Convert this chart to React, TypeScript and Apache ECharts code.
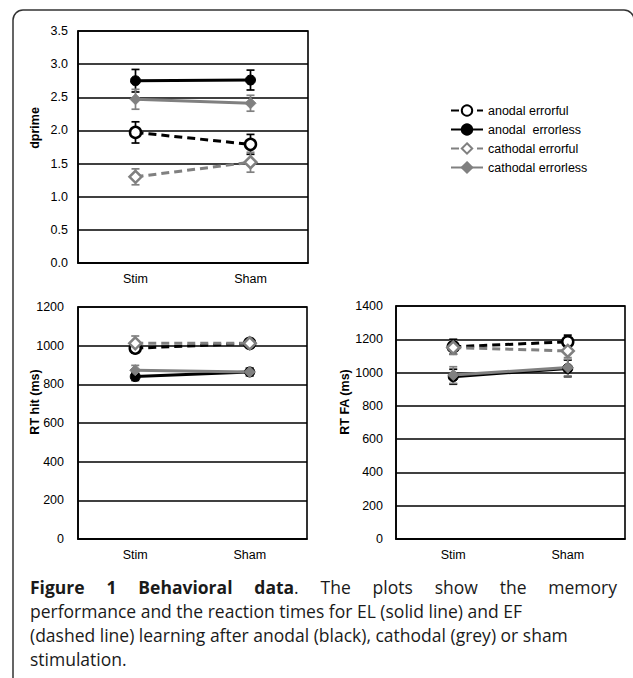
import React, { useEffect, useRef } from "react";
import * as echarts from "echarts";

const categories = ["Stim", "Sham"];
const seriesNames = ["anodal errorful", "anodal  errorless", "cathodal errorful", "cathodal errorless"];

// dprime (mean, error)
const dprimeAnodalErrorful = [1.97, 1.79];
const dprimeAnodalErrorless = [2.75, 2.76];
const dprimeCathodalErrorful = [1.3, 1.52];
const dprimeCathodalErrorless = [2.47, 2.41];
const dprimeErrAnodalErrorful = [0.16, 0.15];
const dprimeErrAnodalErrorless = [0.17, 0.15];
const dprimeErrCathodalErrorful = [0.12, 0.15];
const dprimeErrCathodalErrorless = [0.15, 0.12];

// RT hit (ms)
const rtHitAnodalErrorful = [987, 1012];
const rtHitAnodalErrorless = [840, 864];
const rtHitCathodalErrorful = [1012, 1012];
const rtHitCathodalErrorless = [873, 864];
const rtHitErrAnodalErrorful = [25, 20];
const rtHitErrAnodalErrorless = [20, 20];
const rtHitErrCathodalErrorful = [38, 25];
const rtHitErrCathodalErrorless = [25, 20];

// RT FA (ms)
const rtFaAnodalErrorful = [1155, 1185];
const rtFaAnodalErrorless = [975, 1025];
const rtFaCathodalErrorful = [1150, 1130];
const rtFaCathodalErrorless = [985, 1030];
const rtFaErrAnodalErrorful = [45, 40];
const rtFaErrAnodalErrorless = [45, 50];
const rtFaErrCathodalErrorful = [40, 40];
const rtFaErrCathodalErrorless = [50, 50];

// caption: first line is justified word by word ([bold part, regular part])
const captionLine1: [string, string][] = [
  ["Figure", ""],
  ["1", ""],
  ["Behavioral", ""],
  ["data", "."],
  ["", "The"],
  ["", "plots"],
  ["", "show"],
  ["", "the"],
  ["", "memory"],
];
const captionLine2 = "performance and the reaction times for EL (solid line) and EF";
const captionLine3 = "(dashed line) learning after anodal (black), cathodal (grey) or sham";
const captionLine4 = "stimulation.";

const FONT = "'Liberation Sans', Arial, sans-serif";
const CAP_FONT = "'Open Sans', 'Noto Sans', sans-serif";
const GREY = "#808080";

const looks = [
  { color: "#000", dashed: true, symbol: "circle", fill: "#fff", size: 11 },
  { color: "#000", dashed: false, symbol: "circle", fill: "#000", size: 10 },
  { color: GREY, dashed: true, symbol: "diamond", fill: "#fff", size: 12 },
  { color: GREY, dashed: false, symbol: "diamond", fill: GREY, size: 11 },
];

function lineSeries(grid: number, i: number, values: number[]) {
  const lk = looks[i];
  return {
    type: "line",
    name: seriesNames[i],
    xAxisIndex: grid,
    yAxisIndex: grid,
    data: values,
    symbol: lk.symbol,
    symbolSize: lk.size,
    z: 5,
    lineStyle: { color: lk.color, width: 3, type: lk.dashed ? [8, 5] : "solid" },
    itemStyle: { color: lk.fill, borderColor: lk.color, borderWidth: lk.fill === "#fff" ? 2.5 : 1 },
    emphasis: { disabled: true },
  };
}

function errorSeries(grid: number, means: number[][], errs: number[][]) {
  const data: number[][] = [];
  means.forEach((m, si) => m.forEach((v, ci) => data.push([ci, v, errs[si][ci], si])));
  return {
    type: "custom",
    xAxisIndex: grid,
    yAxisIndex: grid,
    z: 4,
    silent: true,
    data,
    renderItem: (_p: any, api: any) => {
      const x = api.value(0);
      const v = api.value(1);
      const e = api.value(2);
      const color = looks[api.value(3)].color;
      const t = api.coord([x, v + e]);
      const b = api.coord([x, v - e]);
      const hw = 4;
      const st = { stroke: color, lineWidth: 1.7 };
      return {
        type: "group",
        children: [
          { type: "line", shape: { x1: t[0], y1: t[1], x2: b[0], y2: b[1] }, style: st },
          { type: "line", shape: { x1: t[0] - hw, y1: t[1], x2: t[0] + hw, y2: t[1] }, style: st },
          { type: "line", shape: { x1: b[0] - hw, y1: b[1], x2: b[0] + hw, y2: b[1] }, style: st },
        ],
      };
    },
  };
}

function xAxis(grid: number) {
  return {
    type: "category",
    gridIndex: grid,
    data: categories,
    boundaryGap: true,
    axisLine: { show: true, lineStyle: { color: "#000", width: 1.6 } },
    axisTick: { show: false },
    axisLabel: { color: "#000", fontSize: 12.5, fontFamily: FONT, margin: 9 },
    splitLine: { show: false },
  };
}

function yAxis(grid: number, max: number, interval: number, margin: number, fmt: (v: number) => string) {
  return {
    type: "value",
    gridIndex: grid,
    min: 0,
    max,
    interval,
    axisLine: { show: true, lineStyle: { color: "#000", width: 1.6 } },
    axisTick: { show: false },
    axisLabel: { color: "#000", fontSize: 12.5, fontFamily: FONT, margin, formatter: fmt },
    splitLine: { show: true, lineStyle: { color: "#000", width: 1.6 } },
  };
}

export default function App() {
  const ref = useRef<HTMLDivElement>(null);
  useEffect(() => {
    document.body.style.margin = "0";
    const chart = echarts.init(ref.current!, undefined, { renderer: "svg" });
    const boldFont = `bold 17.5px ${CAP_FONT}`;
    const normFont = `17.5px ${CAP_FONT}`;
    const capLeft = 30;
    const capRight = 617;
    const capY = [587, 611, 635, 659];

    // measure words for justification
    const ctx = document.createElement("canvas").getContext("2d")!;
    const measure = (t: string, f: string) => {
      if (!t) return 0;
      ctx.font = f;
      return ctx.measureText(t).width;
    };
    const widths = captionLine1.map(([b, r]) => measure(b, boldFont) + measure(r, normFont));
    const total = widths.reduce((a, w) => a + w, 0);
    const gap = (capRight - capLeft - total) / (captionLine1.length - 1);
    let cx = capLeft;
    const captionGraphics: any[] = [];
    captionLine1.forEach(([b, r], i) => {
      const text = (b ? `{b|${b}}` : "") + r;
      captionGraphics.push({
        type: "text",
        x: cx,
        y: capY[0],
        style: {
          text,
          font: normFont,
          fill: "#1a1a1a",
          verticalAlign: "middle",
          align: "left",
          rich: { b: { font: boldFont, fill: "#1a1a1a" } },
        },
      });
      cx += widths[i] + gap;
    });
    [captionLine2, captionLine3, captionLine4].forEach((t, i) =>
      captionGraphics.push({
        type: "text",
        x: capLeft,
        y: capY[i + 1],
        style: { text: t, font: normFont, fill: "#1a1a1a", verticalAlign: "middle", align: "left" },
      })
    );
    const axisName = (text: string, x: number, y: number) => ({
      type: "text",
      x,
      y,
      rotation: Math.PI / 2,
      style: { text, font: `bold 12.5px ${FONT}`, fill: "#000", align: "center", verticalAlign: "middle" },
    });

    const option: any = {
      animation: false,
      backgroundColor: "#fff",
      grid: [
        { left: 78, top: 31, width: 230, height: 232, show: true, borderColor: "#000", borderWidth: 1.6, backgroundColor: "transparent" },
        { left: 78, top: 307, width: 229, height: 232, show: true, borderColor: "#000", borderWidth: 1.6, backgroundColor: "transparent" },
        { left: 396, top: 306, width: 229, height: 233, show: true, borderColor: "#000", borderWidth: 1.6, backgroundColor: "transparent" },
      ],
      xAxis: [xAxis(0), xAxis(1), xAxis(2)],
      yAxis: [
        yAxis(0, 3.5, 0.5, 10, (v: number) => v.toFixed(1)),
        yAxis(1, 1200, 200, 14, (v: number) => String(v)),
        yAxis(2, 1400, 200, 13, (v: number) => String(v)),
      ],
      legend: {
        data: seriesNames,
        orient: "vertical",
        left: 445,
        top: 99,
        itemWidth: 32,
        itemHeight: 13,
        itemGap: 6,
        selectedMode: false,
        textStyle: { color: "#000", fontSize: 12.5, fontFamily: FONT },
      },
      graphic: [
        {
          type: "rect",
          shape: { x: 13, y: 10, width: 621, height: 720, r: 10 },
          style: { fill: "none", stroke: "#333", lineWidth: 1.5 },
          silent: true,
        },
        axisName("dprime", 35, 128),
        axisName("RT hit (ms)", 35, 402),
        axisName("RT FA (ms)", 345, 402),
        ...captionGraphics,
      ],
      series: [
        errorSeries(
          0,
          [dprimeAnodalErrorful, dprimeAnodalErrorless, dprimeCathodalErrorful, dprimeCathodalErrorless],
          [dprimeErrAnodalErrorful, dprimeErrAnodalErrorless, dprimeErrCathodalErrorful, dprimeErrCathodalErrorless]
        ),
        errorSeries(
          1,
          [rtHitAnodalErrorful, rtHitAnodalErrorless, rtHitCathodalErrorful, rtHitCathodalErrorless],
          [rtHitErrAnodalErrorful, rtHitErrAnodalErrorless, rtHitErrCathodalErrorful, rtHitErrCathodalErrorless]
        ),
        errorSeries(
          2,
          [rtFaAnodalErrorful, rtFaAnodalErrorless, rtFaCathodalErrorful, rtFaCathodalErrorless],
          [rtFaErrAnodalErrorful, rtFaErrAnodalErrorless, rtFaErrCathodalErrorful, rtFaErrCathodalErrorless]
        ),
        lineSeries(0, 0, dprimeAnodalErrorful),
        lineSeries(0, 1, dprimeAnodalErrorless),
        lineSeries(0, 2, dprimeCathodalErrorful),
        lineSeries(0, 3, dprimeCathodalErrorless),
        lineSeries(1, 0, rtHitAnodalErrorful),
        lineSeries(1, 1, rtHitAnodalErrorless),
        lineSeries(1, 2, rtHitCathodalErrorful),
        lineSeries(1, 3, rtHitCathodalErrorless),
        lineSeries(2, 0, rtFaAnodalErrorful),
        lineSeries(2, 1, rtFaAnodalErrorless),
        lineSeries(2, 2, rtFaCathodalErrorful),
        lineSeries(2, 3, rtFaCathodalErrorless),
      ],
    };
    chart.setOption(option);
    return () => chart.dispose();
  }, []);
  return <div ref={ref} style={{ width: 633, height: 678 }} />;
}
